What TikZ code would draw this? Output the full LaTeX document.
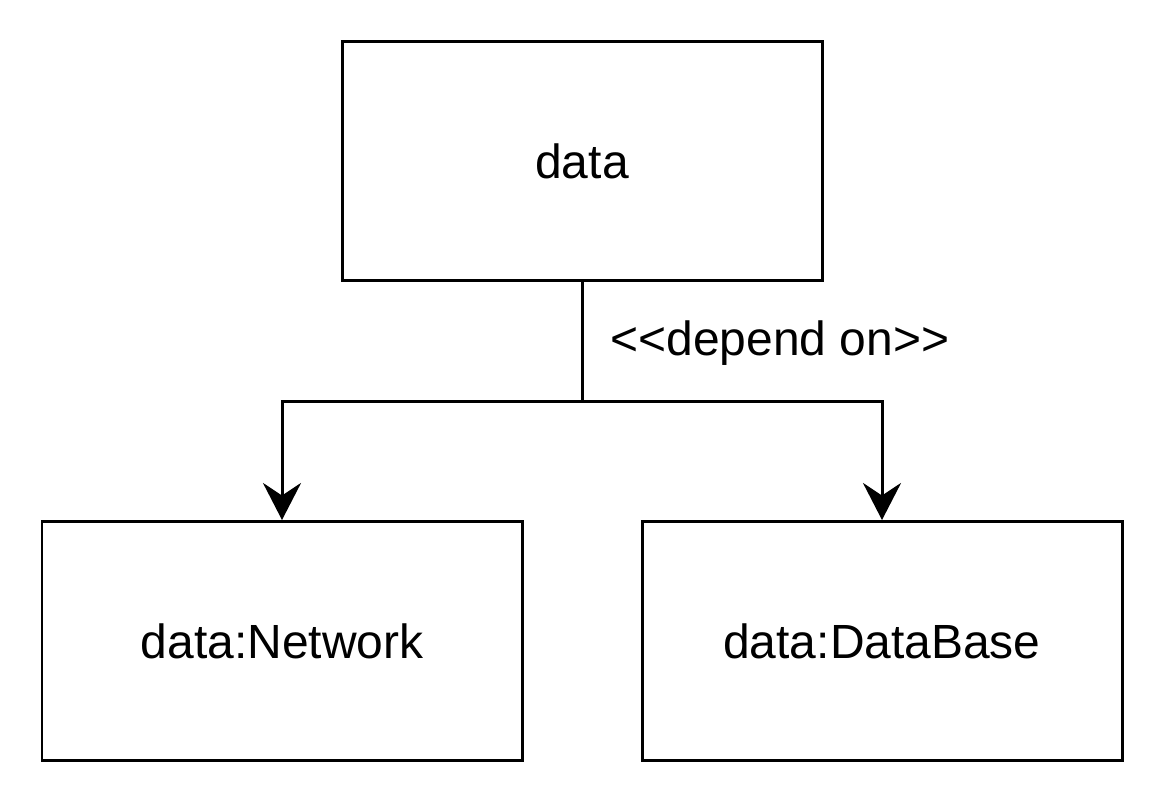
\documentclass[tikz,border=0pt]{standalone}
\usepackage{fontspec}
\setmainfont{Liberation Sans}[Ligatures=TeXOff]
\usepackage{tikz}
\usetikzlibrary{arrows.meta, positioning}

\begin{document}
\begin{tikzpicture}[line width=0.06cm]

    % Define style for boxes
    \tikzset{pkg/.style={rectangle, draw=black, minimum width=9.6cm, minimum height=4.78cm, text centered, font=\fontsize{27.3}{32}\selectfont}}
    \tikzset{dep/.style={-{Stealth[length=0.74cm, width=0.76cm, inset=0.25cm]}}}

    \useasboundingbox (0,0) rectangle (23.28,-16.08);

    % Nodes
    \node (data) [pkg] at (11.64,-3.23) {data};
    \node (network) [pkg] at (5.64,-12.82) {data:Network};
    \node (database) [pkg] at (17.64,-12.82) {data:DataBase};

    \coordinate (split) at (11.64,-8.02);
    \node (dependon) [anchor=west, font=\fontsize{27.3}{32}\selectfont] at (12.06,-6.86) {<<depend on>>};

    % Lines
    \draw (data) -- (split);
    \draw[dep] (split) -| (network);
    \draw[dep] (split) -| (database);

\end{tikzpicture}
\end{document}
